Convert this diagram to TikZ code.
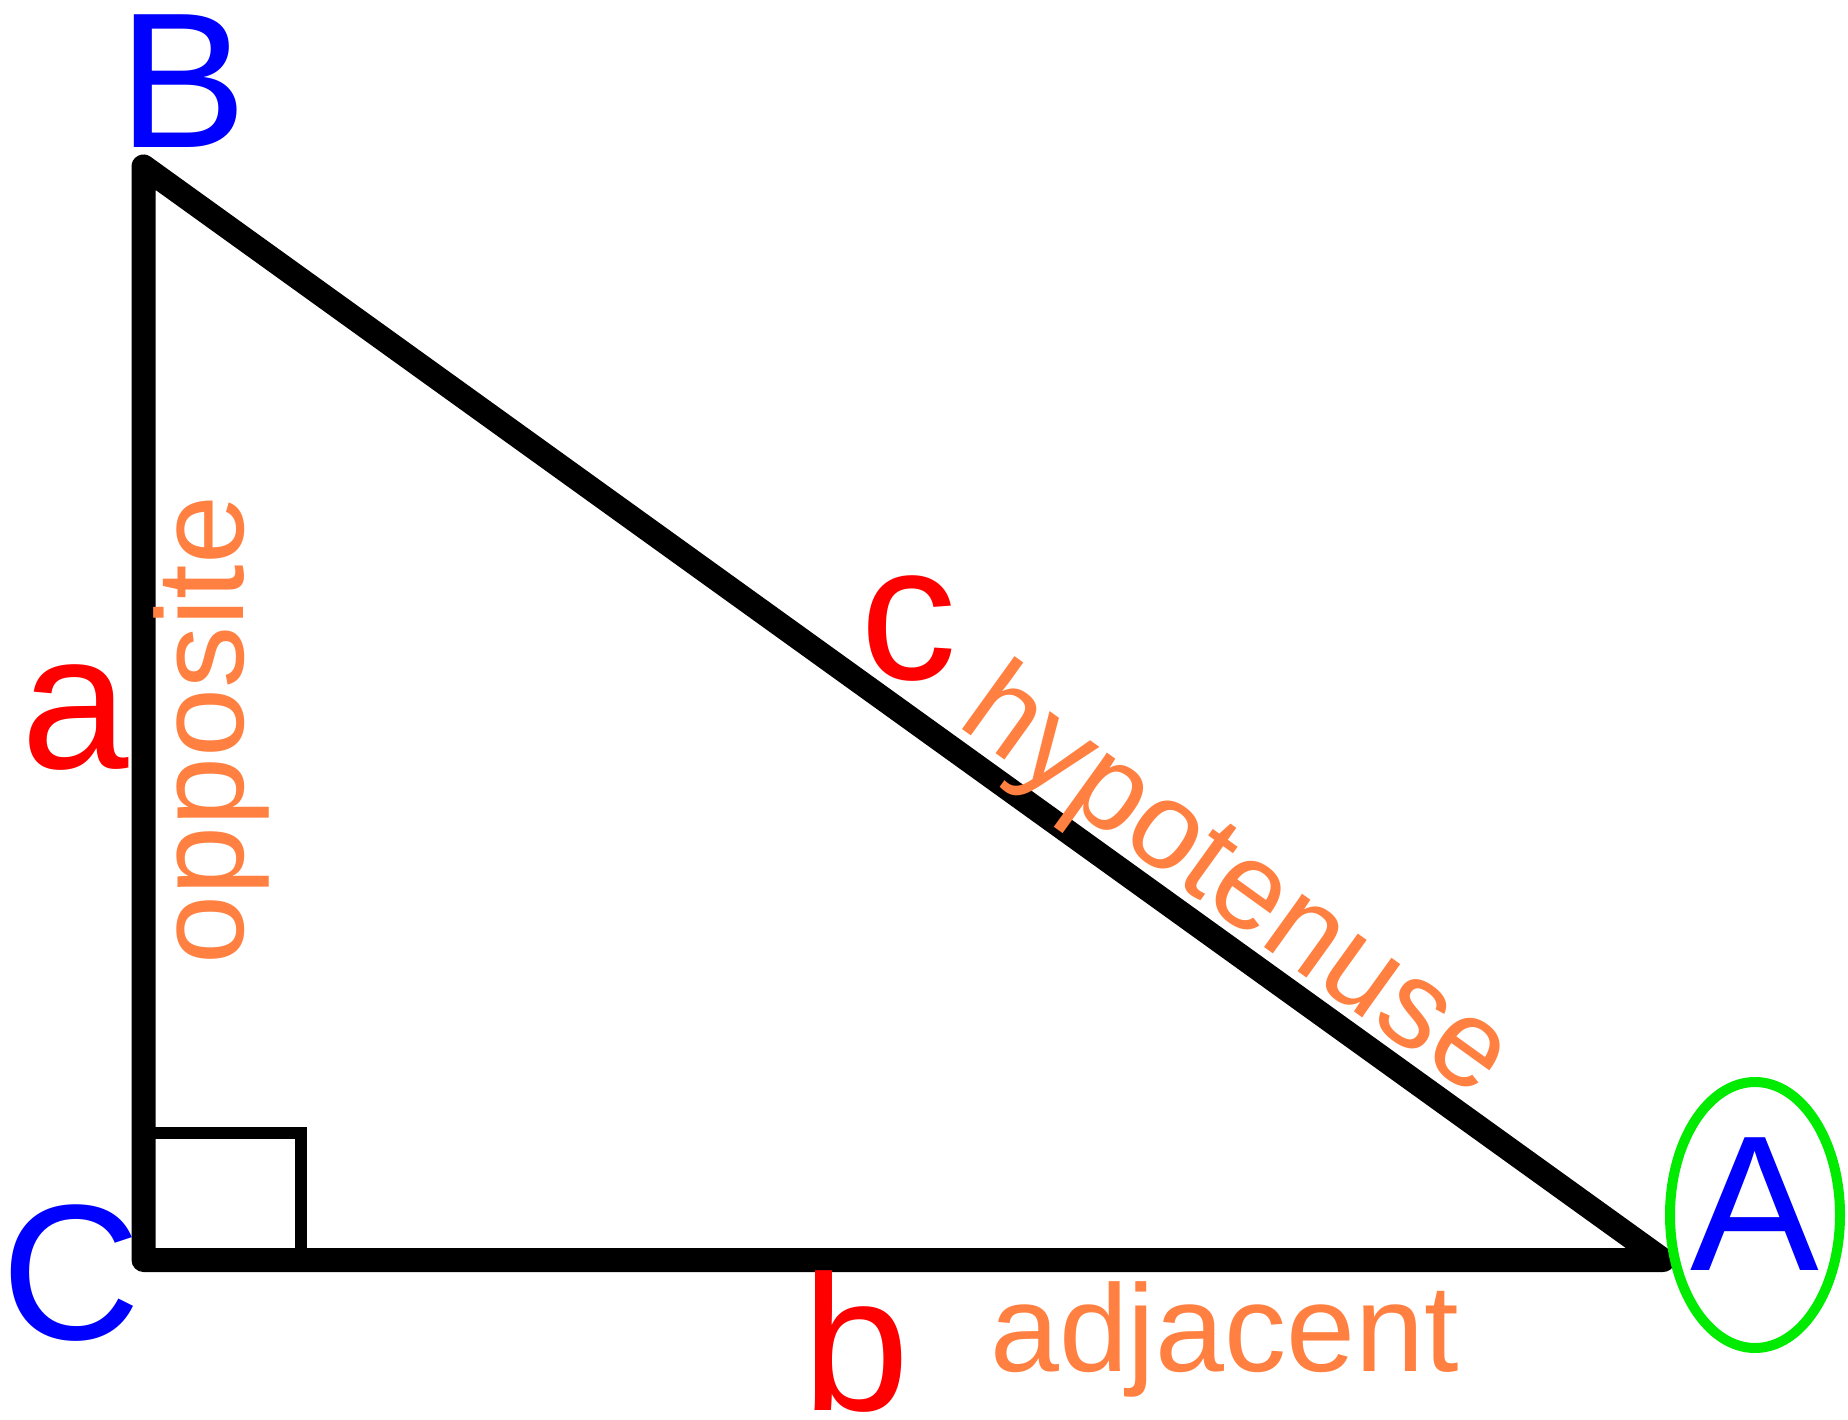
\documentclass[tikz,border=0pt]{standalone}
\usepackage{fontspec}
\setmainfont{Liberation Sans}
\definecolor{vblue}{RGB}{0,0,255}
\definecolor{sred}{RGB}{255,0,0}
\definecolor{lorange}{RGB}{255,128,64}
\definecolor{ringgreen}{RGB}{0,235,0}
\begin{document}
\begin{tikzpicture}[x=1pt,y=-1pt,
  vertex/.style={text=vblue, inner sep=0pt, anchor=base, font=\fontsize{193}{193}\selectfont},
  sidename/.style={text=sred, inner sep=0pt, anchor=base, font=\fontsize{193}{193}\selectfont},
  sidelabel/.style={text=lorange, inner sep=0pt, anchor=base, font=\fontsize{124}{124}\selectfont},
  edge/.style={line width=24pt, line join=round, line cap=round, black},
  rightangle/.style={line width=12pt, black},
  ring/.style={line width=10pt, draw=ringgreen}]
\useasboundingbox (0,0) rectangle (1848,1420);
\fill[white] (0,0) rectangle (1848,1420);
% vertices
\coordinate (B) at (143.5,166.5);
\coordinate (C) at (143.5,1260);
\coordinate (A) at (1663,1260);
\coordinate (sqa) at (143.5,1132.5);
\coordinate (sqb) at (300.5,1260);
% triangle
\draw[edge] (B) -- (C) -- (A) -- cycle;
\draw[rightangle] (sqa) -| (sqb);
% ring around A
\draw[ring] (1755,1215) ellipse [x radius=85, y radius=133];
% vertex letters
\node[vertex] (lB) at (183,148) {B};
\node[vertex] (lC) at (71,1339) {C};
\node[vertex] (lA) at (1755,1270) {A};
% side names
\node[sidename] (sa) at (75,768) {a};
\node[sidename] (sb) at (856,1410) {b};
\node[sidename] (sc) at (909,679) {c};
% side labels
\node[sidelabel, rotate=90] (opp) at (243,730) {opposite};
\node[sidelabel] (adj) at (1224.5,1371) {adjacent};
\node[sidelabel, rotate=-35.75] (hyp) at (1216,912) {hypotenuse};
\end{tikzpicture}
\end{document}
